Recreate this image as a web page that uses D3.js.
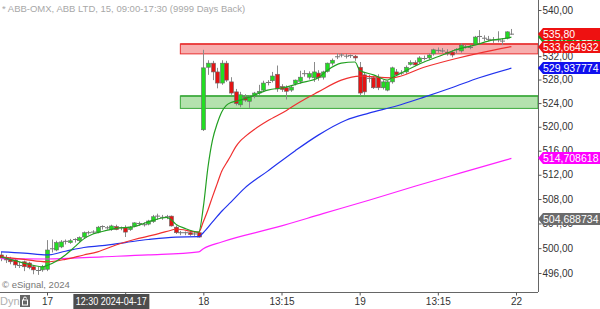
<!DOCTYPE html>
<html>
<head>
<meta charset="utf-8">
<script src="https://cdn.jsdelivr.net/npm/d3@7"></script>
<style>
  body { margin: 0; background: #fff; }
  svg { display: block; }
  text { font-family: "Liberation Sans", Arial, sans-serif; }
</style>
</head>
<body>
<script>
// 15 min bars, ABB-OMX, index 0 = last bars of the 16th
// [open, high, low, close]
var candles = [
  [498.9,499.4,497.9,498.4],[498.5,498.9,497.6,498.1],[498.2,498.6,497.4,497.8],[498.1,498.3,496.8,497.3],
  [497.4,497.8,496.8,497.2],[497.8,498.0,496.3,497.0],[497.6,497.8,496.6,496.9],[497.0,497.2,495.8,496.5],
  [496.3,497.0,495.7,496.4],[496.5,497.3,496.2,497.0],
  // 17th
  [496.6,501.3,496.3,499.7],[499.8,501.4,499.3,499.9],[499.7,501.2,499.5,500.9],[500.2,501.3,500.0,501.0],
  [500.9,501.4,500.6,501.1],[500.9,501.5,500.7,501.2],[501.2,501.6,500.9,501.4],[501.2,501.9,501.0,501.7],
  [501.8,502.7,501.6,502.5],[502.5,502.8,502.2,502.5],[502.6,502.9,502.3,502.6],[502.6,503.6,502.4,503.4],
  [503.4,503.7,503.0,503.5],[503.3,503.6,503.0,503.3],[503.0,503.8,502.8,503.6],[503.5,503.8,502.9,503.0],
  [503.2,503.5,502.9,503.3],[503.3,503.7,501.8,502.6],[503.0,503.6,502.8,503.4],[503.6,504.2,503.4,504.1],
  [503.9,504.3,503.6,504.0],[503.8,504.2,503.5,503.8],[503.9,504.6,503.7,504.4],[504.3,505.4,504.1,505.1],
  [505.1,505.6,504.6,505.2],[505.1,505.4,504.6,505.0],[505.1,505.4,504.7,505.1],[505.2,505.3,503.5,503.6],
  [503.4,503.7,502.3,502.5],[502.5,502.8,502.1,502.5],[502.4,502.7,502.1,502.5],[502.5,502.8,502.0,502.2],
  [502.3,502.7,502.0,502.3],[502.5,502.7,501.7,501.8],
  // 18th
  [519.5,533.1,519.3,530.0],[530.1,531.3,528.8,530.8],[530.8,531.2,527.9,529.3],[529.3,530.0,526.5,527.4],
  [527.4,531.3,527.1,530.8],[530.8,531.2,527.6,527.9],[527.6,528.4,525.4,525.7],[525.9,526.4,523.6,523.9],
  [523.7,525.9,523.3,525.4],[525.0,525.5,524.2,524.5],[524.3,525.3,523.2,525.0],[525.2,525.9,524.8,525.7],
  [525.7,527.1,525.4,526.0],[526.2,527.8,525.9,527.4],[527.4,527.9,527.0,527.5],[527.8,529.3,527.5,528.6],
  [528.9,530.4,525.9,526.4],[526.8,527.2,525.9,526.3],[526.6,527.0,524.6,526.0],[526.2,527.0,525.9,526.7],
  [527.3,528.0,527.0,527.9],[527.7,529.5,527.3,528.4],[528.9,529.6,528.5,529.0],[528.4,529.4,528.0,529.0],
  [528.3,531.0,527.6,529.3],[529.1,529.6,527.8,528.3],[528.4,529.5,528.0,529.3],[529.4,530.9,529.2,530.8],
  [530.8,531.6,530.4,531.3],[531.8,532.5,531.5,531.9],[532.1,532.5,531.8,532.2],[532.0,532.4,531.6,532.0],
  [532.0,532.3,531.7,532.1],[532.0,532.2,531.2,531.7],
  // 19th
  [530.1,531.0,525.2,525.7],[528.8,529.3,525.4,525.9],[528.3,528.8,527.5,528.2],[528.3,528.6,526.4,526.6],
  [528.4,528.9,526.2,526.6],[526.6,527.9,526.3,527.6],[526.2,527.8,526.0,527.6],[527.6,530.2,527.3,530.0],
  [529.3,529.8,528.6,528.8],[529.1,529.6,528.8,529.1],[529.3,530.4,529.0,530.1],[530.6,531.3,530.4,530.9],
  [530.9,531.3,530.3,530.5],[531.0,532.0,530.7,531.7],[531.7,532.1,531.3,531.6],[531.7,532.5,531.4,532.2],
  [532.4,533.3,532.1,533.1],[533.1,533.5,532.6,533.0],[533.0,533.4,532.6,532.9],[532.7,533.2,532.1,532.4],
  [532.7,533.0,531.8,532.2],[533.0,533.4,532.5,533.1],[532.9,534.2,532.6,533.9],[533.7,534.0,533.3,533.6],
  [533.6,534.0,533.2,533.5],[534.1,535.5,533.9,535.3],[535.3,536.5,534.3,535.4],[535.2,535.6,534.6,535.1],
  [535.0,535.5,534.6,534.9],[534.9,535.3,534.3,534.8],[534.8,536.3,534.4,534.8],[534.7,535.1,533.9,534.6],
  [535.1,536.3,534.9,536.2],[536.0,536.7,535.7,535.8]
];

// moving averages: [bar index, value]
var maFast = [[0,498.6],[3,498.0],[6,497.4],[9,497.0],[10,497.2],[12,497.9],[14,498.9],[16,500.2],[18,501.5],
  [20,502.3],[22,502.7],[25,503.2],[29,503.5],[31,504.0],[33,504.5],[35,504.9],[36,505.0],[37,504.6],[38,503.9],
  [40,503.2],[43,502.6],[44,506.7],[45,513.2],[46,517.8],[47,520.5],[48,522.5],[49,523.6],[50,524.1],[51,524.3],
  [52,524.5],[54,525.0],[58,526.2],[62,526.7],[65,527.4],[69,528.3],[71,529.6],[74,530.8],[77,531.0],[78,529.6],
  [81,528.8],[84,527.9],[85,528.3],[87,529.1],[92,531.0],[96,532.2],[99,533.1],[103,533.9],[107,534.8],[110,535.1],[111,535.3]];
var maMid = [[0,498.6],[5,498.2],[10,497.8],[14,498.2],[18,498.9],[21,499.4],[25,500.5],[29,501.4],[33,502.1],
  [37,502.9],[38,503.1],[43,502.6],[44,504.3],[45,506.2],[46,508.4],[47,510.5],[48,512.6],[49,513.9],[50,515.2],
  [51,516.6],[52,517.6],[53,518.3],[55,519.5],[58,521.0],[62,522.7],[65,524.2],[69,525.9],[74,527.9],[78,528.6],
  [85,528.3],[92,530.1],[99,531.6],[105,532.7],[111,533.66]];
var maSlow = [[0,499.4],[5,499.2],[10,498.9],[14,499.5],[18,500.1],[22,500.4],[27,500.9],[32,501.4],[38,501.8],
  [43,501.85],[44,502.5],[46,504.25],[48,506.0],[50,507.5],[53,509.8],[58,512.6],[64,516.0],[69,518.6],[75,521.1],
  [80,522.3],[86,523.5],[92,525.0],[98,526.6],[104,528.3],[111,529.94]];
var maLong = [[0,498.3],[10,498.25],[22,498.6],[32,498.9],[43,499.4],[44,499.9],[48,501.0],[60,503.4],[70,505.6],
  [80,507.8],[90,510.1],[100,512.3],[111,514.71]];

// support / resistance zones: [from bar, low, high]
var zoneRes = [39, 532.4, 534.1];
var zoneSup = [39, 523.1, 525.2];

var priceTicks = [496, 500, 504, 508, 512, 516, 520, 524, 528, 532, 536, 540];
var timeTicks = [10, 27, 44, 61, 78, 95, 112];
var timeLabels = ["17", "13:15", "18", "13:15", "19", "13:15", "22"];

// right side value flags
var flags = [
  {v: 504.688734, txt: "504,688734", c: "#6b6b6b"},
  {v: 514.708618, txt: "514,708618", c: "#ff00ff"},
  {v: 529.937774, txt: "529,937774", c: "#1010ee"},
  {v: 535.3, txt: "535,743127", c: "#1a9a1a"},
  {v: 533.664932, txt: "533,664932", c: "#ee1111"},
  {v: 535.80, txt: "535,80", c: "#ee1111"}
];

var W = 600, H = 309, axisX = 538, axisY = 292;

var x = d3.scaleLinear().domain([10, 112]).range([47, 516]);
var y = d3.scaleLog().domain([496, 540]).range([273, 10]);

var svg = d3.select("body").append("svg")
  .attr("width", W).attr("height", H);
svg.append("rect").attr("width", W).attr("height", H).attr("fill", "#fff");

// zones
function zone(z, fill, edge) {
  var g = svg.append("g");
  g.append("rect")
    .attr("x", x(z[0])).attr("y", y(z[2]))
    .attr("width", axisX - x(z[0])).attr("height", y(z[1]) - y(z[2]))
    .attr("fill", fill).attr("stroke", edge).attr("stroke-width", 1);
  g.append("line")
    .attr("x1", x(z[0])).attr("x2", axisX)
    .attr("y1", y(z[2])).attr("y2", y(z[2]))
    .attr("stroke", edge).attr("stroke-width", 1.5);
}
zone(zoneRes, "#f7aeae", "#e83030");
zone(zoneSup, "#b4e2ae", "#3aa83a");

// candles
var cg = svg.append("g");
candles.forEach(function(d, i) {
  var cx = Math.round(x(i)) + 0.5;
  cg.append("line")
    .attr("x1", cx).attr("x2", cx)
    .attr("y1", y(d[1])).attr("y2", y(d[2]))
    .attr("stroke", "#8a8a8a").attr("stroke-width", 1);
  var top = y(Math.max(d[0], d[3])), bot = y(Math.min(d[0], d[3]));
  if (bot - top < 1.5) {
    cg.append("line")
      .attr("x1", cx - 2.5).attr("x2", cx + 2.5)
      .attr("y1", y(d[3])).attr("y2", y(d[3]))
      .attr("stroke", "#777").attr("stroke-width", 1);
  } else {
    cg.append("rect")
      .attr("x", cx - 2).attr("y", top)
      .attr("width", 4).attr("height", bot - top)
      .attr("fill", d[3] > d[0] ? "#22dd22" : "#e41414")
      .attr("stroke", "#6a6a6a").attr("stroke-width", 0.6);
  }
});

// moving averages
var line = d3.line()
  .x(function(d) { return x(d[0]); })
  .y(function(d) { return y(d[1]); })
  .curve(d3.curveMonotoneX);
[[maLong, "#ff22ff"], [maSlow, "#2233ee"], [maMid, "#f03030"], [maFast, "#22a022"]].forEach(function(m) {
  svg.append("path").datum(m[0])
    .attr("d", line)
    .attr("fill", "none")
    .attr("stroke", m[1])
    .attr("stroke-width", 1.2);
});

// axes
svg.append("line").attr("x1", axisX + 0.5).attr("x2", axisX + 0.5)
  .attr("y1", 0).attr("y2", axisY).attr("stroke", "#666");
svg.append("line").attr("x1", 0).attr("x2", axisX)
  .attr("y1", axisY + 0.5).attr("y2", axisY + 0.5).attr("stroke", "#666");

var ya = svg.append("g")
  .attr("transform", "translate(" + (axisX + 0.5) + ",0)")
  .call(d3.axisRight(y).tickValues(priceTicks).tickSize(3).tickPadding(1)
    .tickFormat(function(d) { return d.toFixed(2).replace(".", ","); }));
ya.select(".domain").remove();
ya.selectAll("line").attr("stroke", "#555");
ya.selectAll("text").attr("fill", "#333").style("font-size", "10px").style("font-family", "Liberation Sans, Arial");

var xa = svg.append("g")
  .attr("transform", "translate(0," + (axisY + 0.5) + ")")
  .call(d3.axisBottom(x).tickValues(timeTicks).tickSize(3).tickPadding(2)
    .tickFormat(function(d, i) { return timeLabels[i]; }));
xa.select(".domain").remove();
xa.selectAll("line").attr("stroke", "#555");
xa.selectAll("text").attr("fill", "#333").style("font-size", "10px").style("font-family", "Liberation Sans, Arial");

// flags on the price axis
flags.forEach(function(f) {
  var yc = Math.round(y(f.v));
  svg.append("path")
    .attr("d", "M" + (axisX) + "," + yc + "L" + (axisX + 5) + "," + (yc - 6) + "L" + W + "," + (yc - 6) +
      "L" + W + "," + (yc + 6) + "L" + (axisX + 5) + "," + (yc + 6) + "Z")
    .attr("fill", f.c);
  svg.append("text")
    .attr("x", axisX + 5).attr("y", yc + 4)
    .attr("fill", "#fff").style("font-size", "10.5px")
    .text(f.txt);
});

// header and footer texts
svg.append("text").attr("x", 2).attr("y", 12)
  .attr("fill", "#a8a8a8").style("font-size", "9.5px")
  .text("* ABB-OMX, ABB LTD, 15, 09:00-17:30 (9999 Days Back)");
svg.append("text").attr("x", 2).attr("y", 288)
  .attr("fill", "#777").style("font-size", "9.5px")
  .text("\u00a9 eSignal, 2024");
svg.append("text").attr("x", 0).attr("y", 305)
  .attr("fill", "#b0b0b0").style("font-size", "11px")
  .text("Dyn");

// lock button
var lk = svg.append("g").attr("transform", "translate(20,295)");
lk.append("rect").attr("width", 10).attr("height", 12).attr("fill", "#666");
lk.append("rect").attr("x", 2.5).attr("y", 5).attr("width", 5).attr("height", 5).attr("fill", "none").attr("stroke", "#fff");
lk.append("path").attr("d", "M3.5,5V3.5a1.5,1.5 0 0 1 3,0").attr("fill", "none").attr("stroke", "#fff");

// crosshair time label
var cx0 = x(24);
svg.append("rect").attr("x", cx0 - 38).attr("y", 294).attr("width", 76).attr("height", 15).attr("fill", "#4d4d4d");
svg.append("text").attr("x", cx0).attr("y", 305).attr("text-anchor", "middle")
  .attr("fill", "#fff").style("font-size", "10px")
  .attr("textLength", 71).attr("lengthAdjust", "spacingAndGlyphs")
  .text("12:30 2024-04-17");
</script>
</body>
</html>
